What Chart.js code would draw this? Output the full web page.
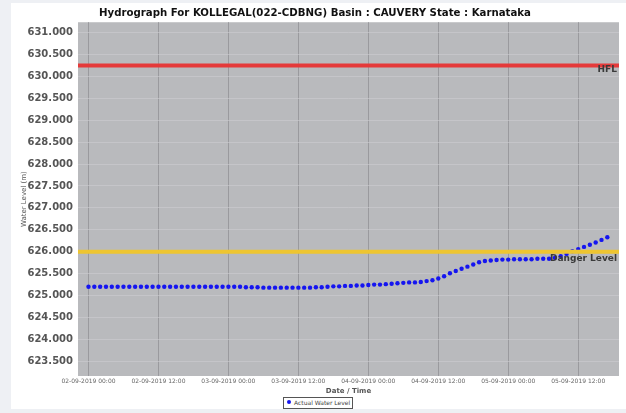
<!DOCTYPE html>
<html>
<head>
<meta charset="utf-8">
<script src="https://cdn.jsdelivr.net/npm/chart.js@4.4.0/dist/chart.umd.min.js"></script>
<style>
body{margin:0;background:#eef0f4;width:626px;height:413px;overflow:hidden;font-family:'DejaVu Sans',sans-serif;}
#panel{position:absolute;left:11px;top:3px;width:615px;height:406px;background:#fff;}
#legend{position:absolute;left:283px;top:397px;height:10px;padding:0 2px 0 3px;border:1px solid #555;background:#fff;font-size:6px;line-height:10px;color:#444;white-space:nowrap;}
#legend .dot{display:inline-block;width:4px;height:4px;border-radius:2px;background:#1515f0;margin-right:3px;vertical-align:1px;}
</style>
</head>
<body>
<div id="panel"><canvas id="hydro" width="615" height="406"></canvas></div>
<div id="legend"></div>
<script>
// chart data
const chartTitle = 'Hydrograph For KOLLEGAL(022-CDBNG) Basin : CAUVERY State : Karnataka';
const seriesName = 'Actual Water Level';
const xTitle = 'Date / Time';
const yTitle = 'Water Level (m)';

// hours since 02-09-2019 00:00 (hourly readings)
const hours = [
    0,1,2,3,4,5,6,7,8,9,10,11,12,13,14,15,16,17,18,19,20,21,22,23,
    24,25,26,27,28,29,30,31,32,33,34,35,36,37,38,39,40,41,42,43,44,45,46,47,
    48,49,50,51,52,53,54,55,56,57,58,59,60,61,62,63,64,65,66,67,68,69,70,71,
    72,73,74,75,76,77,78,79,80,81,82,83,84,85,86,87,88,89
];
const waterLevel = [
    625.20,625.20,625.20,625.20,625.20,625.20,625.20,625.20,625.20,625.20,625.20,625.20,
    625.20,625.20,625.20,625.20,625.20,625.20,625.20,625.20,625.20,625.20,625.20,625.20,
    625.20,625.20,625.20,625.19,625.19,625.19,625.18,625.18,625.18,625.18,625.18,625.18,
    625.18,625.18,625.18,625.19,625.19,625.20,625.21,625.21,625.22,625.22,625.23,625.23,
    625.24,625.25,625.25,625.26,625.27,625.28,625.29,625.30,625.30,625.31,625.33,625.35,
    625.39,625.44,625.51,625.56,625.61,625.66,625.71,625.76,625.79,625.80,625.81,625.82,
    625.82,625.83,625.83,625.83,625.83,625.84,625.84,625.84,625.86,625.90,625.95,626.01,
    626.06,626.11,626.16,626.21,626.27,626.33
];
const hflLevel = 630.25;
const dangerLevel = 626.0;

const xTickHours = [0,12,24,36,48,60,72,84];
const xTickLabels = ['02-09-2019 00:00','02-09-2019 12:00','03-09-2019 00:00','03-09-2019 12:00',
                     '04-09-2019 00:00','04-09-2019 12:00','05-09-2019 00:00','05-09-2019 12:00'];
const yTicks = [623.5,624,624.5,625,625.5,626,626.5,627,627.5,628,628.5,629,629.5,630,630.5,631];

const xMin = -1.8, xMax = 91;

document.getElementById('legend').innerHTML = '<span class="dot"></span>' + seriesName;

// plot background
const plotBg = {
    id:'plotBg',
    beforeDraw(chart){
        const a = chart.chartArea, ctx = chart.ctx;
        ctx.save();
        ctx.fillStyle = '#b9babd';
        ctx.fillRect(a.left, a.top, a.right-a.left, a.bottom-a.top);
        ctx.restore();
    }
};

// marker labels
const markerLabels = {
    id:'markerLabels',
    afterDatasetsDraw(chart){
        const ctx = chart.ctx, y = chart.scales.y, a = chart.chartArea;
        ctx.save();
        ctx.font = 'bold 9px "DejaVu Sans"';
        ctx.fillStyle = '#3a3a3a';
        ctx.textAlign = 'right';
        ctx.textBaseline = 'middle';
        ctx.fillText('HFL', a.right-2, y.getPixelForValue(hflLevel)+4);
        ctx.fillText('Danger Level', a.right-2, y.getPixelForValue(dangerLevel)+7);
        ctx.restore();
    }
};

const points = hours.map((h,i)=>({x:h, y:waterLevel[i]}));

new Chart(document.getElementById('hydro'), {
    type:'scatter',
    data:{
        datasets:[
            {label:'HFL', type:'line', data:[{x:xMin,y:hflLevel},{x:xMax,y:hflLevel}],
             borderColor:'#e53a3a', borderWidth:4, pointRadius:0, order:0},
            {label:'Danger Level', type:'line', data:[{x:xMin,y:dangerLevel},{x:xMax,y:dangerLevel}],
             borderColor:'#eec531', borderWidth:4, pointRadius:0, order:0},
            {label:seriesName, data:points, backgroundColor:'#1515f0', borderWidth:0,
             pointRadius:2.2, pointStyle:'circle', order:1}
        ]
    },
    options:{
        responsive:false,
        animation:false,
        devicePixelRatio:1,
        events:[],
        layout:{padding:{left:0,right:7,top:0,bottom:0}},
        plugins:{
            legend:{display:false},
            tooltip:{enabled:false},
            title:{display:true, text:chartTitle, color:'#111',
                   font:{family:'DejaVu Sans', size:10.2, weight:'bold'},
                   padding:{top:4,bottom:3}}
        },
        scales:{
            x:{
                type:'linear', min:xMin, max:xMax,
                afterBuildTicks:s=>{ s.ticks = xTickHours.map(v=>({value:v})); },
                afterFit:s=>{ s.height = 33; },
                grid:{color:'#9a9a9e', drawTicks:false},
                border:{display:false},
                ticks:{autoSkip:false, maxRotation:0, padding:2, color:'#666',
                       font:{family:'DejaVu Sans', size:6},
                       callback:v=>xTickLabels[xTickHours.indexOf(v)]},
                title:{display:true, text:xTitle, color:'#555',
                       font:{family:'DejaVu Sans', size:7, weight:'bold'},
                       padding:{top:0,bottom:14}}
            },
            y:{
                min:623.165, max:631.235,
                afterBuildTicks:s=>{ s.ticks = yTicks.map(v=>({value:v})); },
                afterFit:s=>{ s.width = 67; },
                grid:{color:'rgba(205,205,208,0.6)', drawTicks:false},
                border:{display:false},
                ticks:{padding:5, color:'#555',
                       font:{family:'DejaVu Sans', size:10, weight:'bold'},
                       callback:v=>v.toFixed(3)},
                title:{display:true, text:yTitle, color:'#555',
                       font:{family:'DejaVu Sans', size:7},
                       padding:{top:9,bottom:0}}
            }
        }
    },
    plugins:[plotBg, markerLabels]
});
</script>
</body>
</html>
